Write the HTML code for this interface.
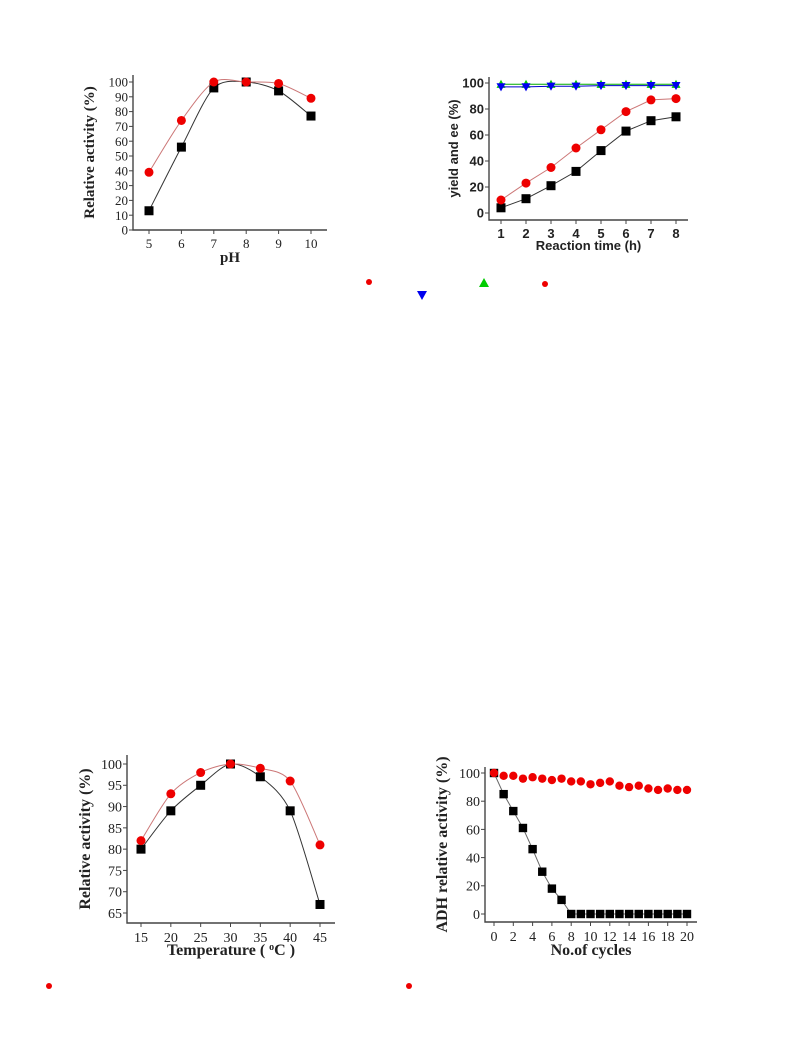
<!DOCTYPE html>
<html><head><meta charset="utf-8">
<style>
html,body{margin:0;padding:0;background:#fff;}
svg{display:block;}
</style></head>
<body>
<svg id="fig" width="793" height="1057" viewBox="0 0 793 1057" xmlns="http://www.w3.org/2000/svg"></svg>
<script>
// ---- Chart A: pH ----
const phCats=[5,6,7,8,9,10];
const phBlack=[13,56,96,100,94,77];
const phRed=[39,74,100,100,99,89];
const phYTicks=[0,10,20,30,40,50,60,70,80,90,100];
// ---- Chart B: reaction time ----
const timeCats=[1,2,3,4,5,6,7,8];
const timeBlack=[4,11,21,32,48,63,71,74];
const timeRed=[10,23,35,50,64,78,87,88];
const timeGreen=[99,99,99,99,99,99,99,99];
const timeBlue=[97,97,97.5,97.5,98,98,98,98];
const timeYTicks=[0,20,40,60,80,100];
// ---- Chart C: temperature ----
const tempCats=[15,20,25,30,35,40,45];
const tempBlack=[80,89,95,100,97,89,67];
const tempRed=[82,93,98,100,99,96,81];
const tempYTicks=[65,70,75,80,85,90,95,100];
// ---- Chart D: cycles ----
const cycCats=[0,1,2,3,4,5,6,7,8,9,10,11,12,13,14,15,16,17,18,19,20];
const cycBlack=[100,85,73,61,46,30,18,10,0,0,0,0,0,0,0,0,0,0,0,0,0];
const cycRed=[100,98,98,96,97,96,95,96,94,94,92,93,94,91,90,91,89,88,89,88,88];
const cycYTicks=[0,20,40,60,80,100];
const cycXTicks=[0,2,4,6,8,10,12,14,16,18,20];

const NS='http://www.w3.org/2000/svg';
const svg=document.getElementById('fig');
function mk(tag,attrs,parent){const e=document.createElementNS(NS,tag);for(const k in attrs)e.setAttribute(k,attrs[k]);(parent||svg).appendChild(e);return e;}
function smooth(pts){let d='M'+pts[0][0]+','+pts[0][1];for(let i=0;i<pts.length-1;i++){const p0=pts[i-1]||pts[i],p1=pts[i],p2=pts[i+1],p3=pts[i+2]||p2;d+=' C'+(p1[0]+(p2[0]-p0[0])/7)+','+(p1[1]+(p2[1]-p0[1])/7)+' '+(p2[0]-(p3[0]-p1[0])/7)+','+(p2[1]-(p3[1]-p1[1])/7)+' '+p2[0]+','+p2[1];}return d;}
function marker(g,type,x,y,color,size){
  let m;
  if(type==='sq'){m=mk('rect',{x:x-size,y:y-size,width:2*size,height:2*size,fill:color},g);}
  else if(type==='ci'){m=mk('circle',{cx:x,cy:y,r:size,fill:color},g);}
  else if(type==='up'){m=mk('polygon',{points:`${x},${y-size} ${x+size},${y+size*0.8} ${x-size},${y+size*0.8}`,fill:color},g);}
  else {m=mk('polygon',{points:`${x},${y+size} ${x+size},${y-size*0.8} ${x-size},${y-size*0.8}`,fill:color},g);}
  return m;
}
function chart(c){
  const g=mk('g',{});
  
  
  const X=v=>c.x0+(v-c.xv0)*(c.x1-c.x0)/(c.xv1-c.xv0);
  const Y=v=>c.y0+(v-c.yv0)*(c.y1-c.y0)/(c.yv1-c.yv0);
  const ax=mk('path',{d:`M${c.axL},${c.axT} V${c.axB} H${c.axR}`,stroke:'#444',fill:'none','stroke-width':1.4},g);
  
  
  c.yt.forEach(v=>{
    mk('line',{x1:c.axL-4,x2:c.axL,y1:Y(v),y2:Y(v),stroke:'#444'},g);
    const t=mk('text',{x:c.axL-5,y:Y(v)+c.fs*0.35,'text-anchor':'end','font-size':c.fs,'font-family':c.font,'font-weight':c.tw,fill:'#222'},g);
    t.textContent=v;
    
    
  });
  c.xt.forEach(v=>{
    mk('line',{x1:X(v),x2:X(v),y1:c.axB,y2:c.axB+4,stroke:'#444'},g);
    const t=mk('text',{x:X(v),y:c.axB+c.fs+5,'text-anchor':'middle','font-size':c.fs,'font-family':c.font,'font-weight':c.tw,fill:'#222'},g);
    t.textContent=v;
    
    
  });
  const xtl=mk('text',{x:(c.axL+c.axR)/2,y:c.xtY,'text-anchor':'middle','font-size':c.tfs,'font-family':c.font,'font-weight':'bold',fill:'#222'},g);
  xtl.innerHTML=c.xtitle;
  
  
  const ytl=mk('text',{x:c.ytX,y:(c.axT+c.axB)/2,'text-anchor':'middle','font-size':c.tfs,'font-family':c.font,'font-weight':'bold',fill:'#222',transform:`rotate(-90 ${c.ytX} ${(c.axT+c.axB)/2})`},g);
  ytl.textContent=c.ytitle;
  
  
  c.series.forEach(s=>{
    const pts=c.cats.map((v,i)=>[X(v),Y(s.vals[i])]);
    const ln=mk('path',{d:c.smooth?smooth(pts):'M'+pts.map(p=>p.join(',')).join(' L'),stroke:s.line,fill:'none','stroke-width':1},g);
    
    
    pts.forEach(p=>{
      const m=marker(g,s.type,p[0],p[1],s.color,c.ms);
      
      
    });
  });
}
const serif='"Liberation Serif",serif', sans='"Liberation Sans",sans-serif';
chart({name:'ph-chart',cats:phCats,xv0:5,xv1:10,x0:149,x1:311,yv0:0,yv1:100,y0:230,y1:82,axL:133,axR:327,axT:75,axB:230,
  yt:phYTicks,xt:phCats,fs:13,tw:'normal',tfs:15,font:serif,xtitle:'pH',xtY:262,ytitle:'Relative activity (%)',ytX:94,smooth:true,ms:4.5,
  series:[{name:'ph-black',vals:phBlack,type:'sq',color:'#000',line:'#333'},{name:'ph-red',vals:phRed,type:'ci',color:'#e00',line:'#c77'}]});
chart({name:'time-chart',cats:timeCats,xv0:1,xv1:8,x0:501,x1:676,yv0:0,yv1:100,y0:213,y1:83,axL:489,axR:688,axT:77,axB:220,
  yt:timeYTicks,xt:timeCats,fs:13,tw:'bold',tfs:13,font:sans,xtitle:'Reaction time (h)',xtY:250,ytitle:'yield and ee (%)',ytX:458,smooth:false,ms:4.5,
  series:[{name:'time-green',vals:timeGreen,type:'up',color:'#0c0',line:'#0a0'},{name:'time-blue',vals:timeBlue,type:'dn',color:'#00e',line:'#00c'},
  {name:'time-black',vals:timeBlack,type:'sq',color:'#000',line:'#333'},{name:'time-red',vals:timeRed,type:'ci',color:'#e00',line:'#c77'}]});
chart({name:'temperature-chart',cats:tempCats,xv0:15,xv1:45,x0:141,x1:320,yv0:65,yv1:100,y0:913,y1:764,axL:127,axR:335,axT:755,axB:923,
  yt:tempYTicks,xt:tempCats,fs:14,tw:'normal',tfs:16,font:serif,xtitle:'Temperature ( <tspan baseline-shift="super" font-size="10">o</tspan>C )',xtY:955,ytitle:'Relative activity (%)',ytX:90,smooth:true,ms:4.5,
  series:[{name:'temp-black',vals:tempBlack,type:'sq',color:'#000',line:'#333'},{name:'temp-red',vals:tempRed,type:'ci',color:'#e00',line:'#c77'}]});
chart({name:'cycles-chart',cats:cycCats,xv0:0,xv1:20,x0:494,x1:687,yv0:0,yv1:100,y0:914,y1:773,axL:485,axR:697,axT:767,axB:922,
  yt:cycYTicks,xt:cycXTicks,fs:14,tw:'normal',tfs:16,font:serif,xtitle:'No.of cycles',xtY:955,ytitle:'ADH relative activity (%)',ytX:447,smooth:false,ms:4.2,
  series:[{name:'cycles-black',vals:cycBlack,type:'sq',color:'#000',line:'#666'},{name:'cycles-red',vals:cycRed,type:'ci',color:'#e00',line:'none'}]});
// stray legend glyphs
[[369,282,'ci','#e00'],[422,295,'dn','#00e'],[484,283,'up','#0c0'],[545,284,'ci','#e00'],[49,986,'ci','#e00'],[409,986,'ci','#e00']].forEach(a=>{
  const m=marker(svg,a[2],a[0],a[1],a[3],a[2]==='ci'?3:5);
  
  
});
</script>
</body></html>
